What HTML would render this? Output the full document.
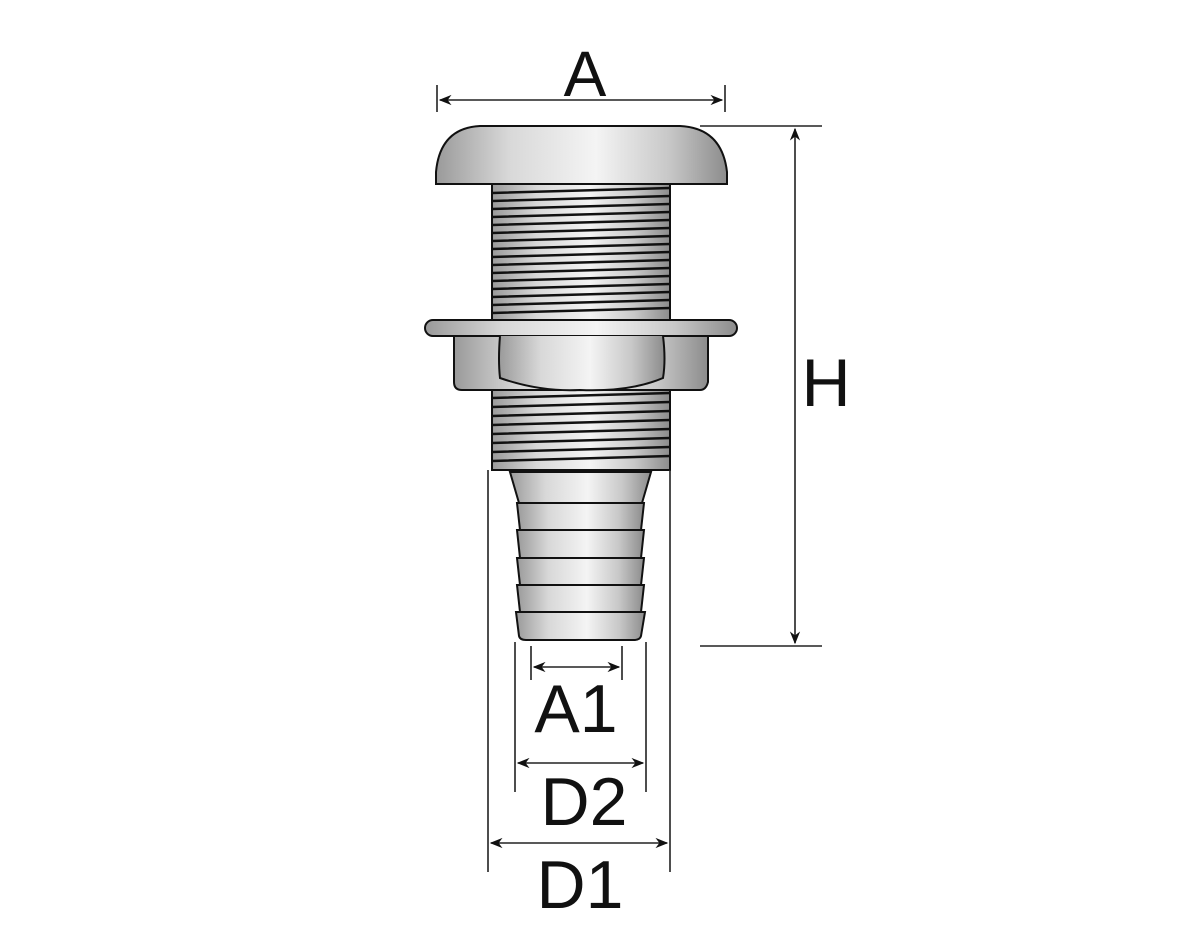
<!DOCTYPE html>
<html><head><meta charset="utf-8"><style>
html,body{margin:0;padding:0;background:#fff;}
svg{display:block}
text{font-family:"Liberation Sans",sans-serif;fill:#111;text-anchor:middle}
</style></head><body>
<svg width="1200" height="950" viewBox="0 0 1200 950">
<defs>
<linearGradient id="m" x1="0" x2="1" y1="0" y2="0">
<stop offset="0" stop-color="#9a9a9a"/><stop offset="0.25" stop-color="#d8d8d8"/><stop offset="0.55" stop-color="#f4f4f4"/><stop offset="0.8" stop-color="#c8c8c8"/><stop offset="1" stop-color="#8c8c8c"/>
</linearGradient>
<marker id="ar" viewBox="0 0 10 10" refX="9" refY="5" markerWidth="8" markerHeight="8" orient="auto-start-reverse"><path d="M0,1 L10,5 L0,9 L3,5z" fill="#111"/></marker>
</defs>
<g stroke="#111" stroke-width="2" fill="url(#m)">
<!-- upper thread -->
<rect x="492" y="184" width="178" height="138"/>
<g stroke-width="2.5" fill="none">
<path d="M492,193 L670,188 M492,201 L670,196 M492,209 L670,204 M492,217 L670,212 M492,225 L670,220 M492,233 L670,228 M492,241 L670,236 M492,249 L670,244 M492,257 L670,252 M492,265 L670,260 M492,273 L670,268 M492,281 L670,276 M492,289 L670,284 M492,297 L670,292 M492,305 L670,300 M492,313 L670,308"/>
</g>
<!-- lower thread -->
<rect x="492" y="388" width="178" height="82"/>
<g stroke-width="2.5" fill="none">
<path d="M492,398 L670,393 M492,407 L670,402 M492,416 L670,411 M492,425 L670,420 M492,434 L670,429 M492,443 L670,438 M492,452 L670,447 M492,461 L670,456"/>
</g>
<!-- head -->
<path d="M436,184 L436,172 Q440,128 480,126 L680,126 Q722,128 727,172 L727,184 Z"/>
<!-- washer -->
<rect x="425" y="320" width="312" height="16" rx="8"/>
<!-- nut -->
<path d="M454,336 L708,336 L708,382 Q706,390 700,390 L462,390 Q454,390 454,382 Z"/>
<path d="M500,336 Q498,360 500,378 Q540,392 580,390 Q630,392 663,378 Q666,360 663,336" fill="url(#m)"/>
<!-- barb -->
<path d="M510,472 L651,472 L642,503 L519,503 Z"/>
<path d="M517,503 L644,503 L641,530 L520,530 Z"/>
<path d="M517,530 L644,530 L641,558 L520,558 Z"/>
<path d="M517,558 L644,558 L641,585 L520,585 Z"/>
<path d="M517,585 L644,585 L641,612 L520,612 Z"/>
<path d="M516,612 L645,612 L641,636 Q640,640 634,640 L526,640 Q520,640 519,636 Z"/>
</g>
<!-- dimension lines -->
<g stroke="#222" stroke-width="1.6" fill="none">
<line x1="437" y1="85" x2="437" y2="112"/><line x1="725" y1="85" x2="725" y2="112"/>
<line x1="440" y1="100" x2="722" y2="100" marker-start="url(#ar)" marker-end="url(#ar)"/>
<line x1="700" y1="126" x2="822" y2="126"/><line x1="700" y1="646" x2="822" y2="646"/>
<line x1="795" y1="129" x2="795" y2="643" marker-start="url(#ar)" marker-end="url(#ar)"/>
<line x1="488" y1="470" x2="488" y2="872"/><line x1="670" y1="470" x2="670" y2="872"/>
<line x1="491" y1="843" x2="667" y2="843" marker-start="url(#ar)" marker-end="url(#ar)"/>
<line x1="515" y1="642" x2="515" y2="792"/><line x1="646" y1="642" x2="646" y2="792"/>
<line x1="518" y1="763" x2="643" y2="763" marker-start="url(#ar)" marker-end="url(#ar)"/>
<line x1="531" y1="646" x2="531" y2="680"/><line x1="622" y1="646" x2="622" y2="680"/>
<line x1="534" y1="667" x2="619" y2="667" marker-start="url(#ar)" marker-end="url(#ar)"/>
</g>
<text x="585" y="96" font-size="64">A</text>
<text x="826" y="406" font-size="68">H</text>
<text x="576" y="732" font-size="68">A1</text>
<text x="584" y="825" font-size="68">D2</text>
<text x="580" y="908" font-size="68">D1</text>
</svg>
</body></html>
